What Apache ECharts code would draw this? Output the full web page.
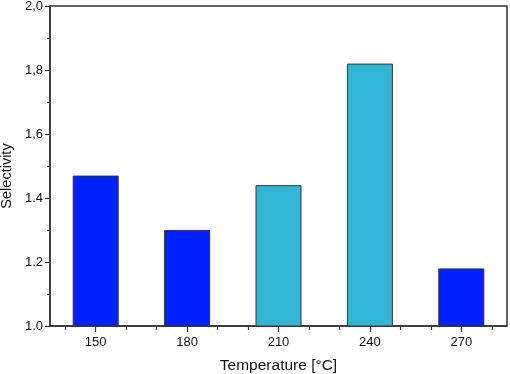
<!DOCTYPE html>
<html>
<head>
<meta charset="utf-8">
<script src="https://cdn.jsdelivr.net/npm/echarts@6/dist/echarts.min.js"></script>
<style>
  html, body { margin: 0; padding: 0; background: #fff; }
  #chart { width: 510px; height: 374px; }
</style>
</head>
<body>
<div id="chart"></div>
<script>
var temperatures = [150, 180, 210, 240, 270];
var selectivity = [1.47, 1.30, 1.44, 1.82, 1.18];
var barColors = ['#0022ff', '#0022ff', '#32b5d4', '#32b5d4', '#0022ff'];
var minorTicksX = [140, 160, 170, 190, 200, 220, 230, 250, 260, 280];
var yTickLabels = { '1': '1.0', '1.2': '1.2', '1.4': '1.4', '1.6': '1,6', '1.8': '1,8', '2': '2,0' };

var dom = document.getElementById('chart');
var myChart = echarts.init(dom);

var barData = temperatures.map(function (t, i) {
    return {
        value: [t, selectivity[i]],
        itemStyle: { color: barColors[i] }
    };
});

var option = {
    animation: false,
    grid: {
        left: 50, right: 3, top: 6, bottom: 48,
        outerBoundsMode: 'none',
        containLabel: false,
        show: true, borderColor: '#333', borderWidth: 1.5,
        backgroundColor: '#fff'
    },
    xAxis: [
        {
            type: 'value',
            min: 135, max: 285,
            name: 'Temperature [°C]',
            nameLocation: 'middle',
            nameGap: 32,
            nameTextStyle: { fontFamily: 'Liberation Sans', fontSize: 15.5, color: '#111' },
            axisLine: { lineStyle: { color: '#333', width: 1.5 } },
            axisTick: { customValues: temperatures, length: 6, lineStyle: { color: '#333', width: 1.2 } },
            axisLabel: { customValues: temperatures, margin: 10, fontFamily: 'Liberation Sans', fontSize: 13, color: '#111' },
            splitLine: { show: false }
        },
        {
            type: 'value',
            min: 135, max: 285,
            position: 'bottom',
            axisLine: { show: false },
            axisTick: { customValues: minorTicksX, length: 4, lineStyle: { color: '#333', width: 1.2 } },
            axisLabel: { show: false },
            splitLine: { show: false }
        }
    ],
    yAxis: {
        type: 'value',
        min: 1, max: 2, interval: 0.2,
        name: 'Selectivity',
        nameLocation: 'middle',
        nameGap: 35,
        nameTextStyle: { fontFamily: 'Liberation Sans', fontSize: 14.5, color: '#111', padding: [0, 20, 0, 0] },
        axisLine: { show: true, lineStyle: { color: '#333', width: 1.5 } },
        axisTick: { show: true, length: 5, lineStyle: { color: '#333', width: 1.2 } },
        minorTick: { show: true, splitNumber: 2, length: 3, lineStyle: { color: '#333', width: 1.2 } },
        axisLabel: {
            margin: 7,
            fontFamily: 'Liberation Sans', fontSize: 13, color: '#111',
            formatter: function (v) {
                var k = String(Math.round(v * 10) / 10);
                return yTickLabels[k] !== undefined ? yTickLabels[k] : '';
            }
        },
        splitLine: { show: false }
    },
    series: [
        {
            type: 'bar',
            xAxisIndex: 0,
            barWidth: 46,
            data: barData,
            itemStyle: { borderColor: '#333', borderWidth: 1 }
        }
    ]
};
myChart.setOption(option, true);
</script>
</body>
</html>
